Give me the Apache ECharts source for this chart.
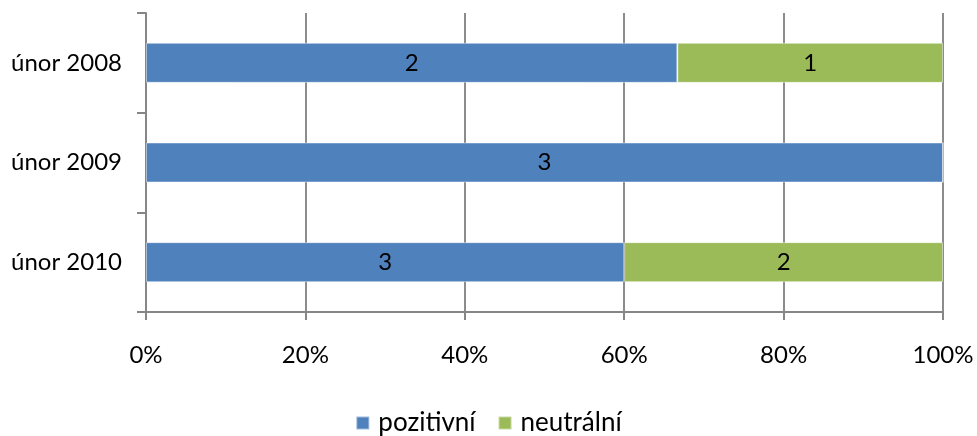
<!DOCTYPE html>
<html>
<head>
<meta charset="utf-8">
<script src="https://cdn.jsdelivr.net/npm/echarts@6/dist/echarts.min.js"></script>
<style>
  html, body { margin: 0; padding: 0; background: #fff; }
  #chart { width: 977px; height: 436px; }
</style>
</head>
<body>
<div id="chart"></div>
<script>
// data
const categories = ["únor 2008", "únor 2009", "únor 2010"];
const pozitivni = [2, 3, 3];
const neutralni = [1, 0, 2];
const tickLabels = ["0%", "20%", "40%", "60%", "80%", "100%"];

const totals = categories.map((c, i) => pozitivni[i] + neutralni[i]);
const pct = (arr) => arr.map((v, i) => ({ value: v / totals[i] * 100, count: v }));

const font = "Lato, 'Open Sans', sans-serif";
const labelOpt = {
  show: true,
  position: "inside",
  color: "#000",
  fontSize: 24,
  fontFamily: font,
  formatter: (p) => (p.data.count ? String(p.data.count) : ""),
};

const chart = echarts.init(document.getElementById("chart"));
chart.setOption({
  animation: false,
  textStyle: { fontFamily: font },
  grid: { left: 146, right: 34, top: 13, bottom: 124 },
  legend: {
    bottom: -5,
    left: "center",
    itemWidth: 13,
    itemHeight: 13,
    itemGap: 22,
    icon: "rect",
    textStyle: { fontSize: 26, color: "#000", fontFamily: font, padding: [0, 0, 0, 4] },
    data: ["pozitivní", "neutrální"],
  },
  xAxis: {
    type: "value",
    min: 0,
    max: 100,
    interval: 20,
    axisLine: { show: true, lineStyle: { color: "#868686", width: 2 } },
    axisTick: { show: true, length: 8, lineStyle: { color: "#868686", width: 2 } },
    splitLine: { show: true, lineStyle: { color: "#8c8c8c", width: 2 } },
    axisLabel: {
      margin: 31,
      fontSize: 24,
      color: "#000",
      formatter: (v) => tickLabels[Math.round(v / 20)],
    },
  },
  yAxis: {
    type: "category",
    inverse: true,
    data: categories,
    axisLine: { show: true, lineStyle: { color: "#868686", width: 2 } },
    axisTick: { show: true, length: 9, lineStyle: { color: "#868686", width: 2 } },
    axisLabel: { margin: 24, fontSize: 24, color: "#000" },
  },
  series: [
    {
      name: "pozitivní",
      type: "bar",
      stack: "total",
      barWidth: 40,
      data: pct(pozitivni),
      itemStyle: { color: "#4F81BD", borderColor: "rgba(255,255,255,0.45)", borderWidth: 1 },
      label: labelOpt,
    },
    {
      name: "neutrální",
      type: "bar",
      stack: "total",
      barWidth: 40,
      data: pct(neutralni),
      itemStyle: { color: "#9BBB59", borderColor: "rgba(255,255,255,0.45)", borderWidth: 1 },
      label: labelOpt,
    },
  ],
});
</script>
</body>
</html>
